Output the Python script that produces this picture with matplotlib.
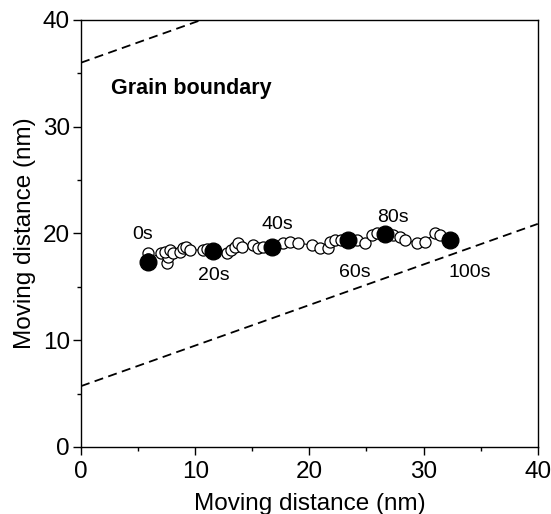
import matplotlib
matplotlib.use("Agg")
import matplotlib.pyplot as plt
from matplotlib.ticker import MultipleLocator

plt.rcParams['font.family'] = ['Liberation Sans', 'DejaVu Sans']

# trajectory (hollow markers), in time order
traj_x = [5.86, 5.9, 7.0, 7.5, 7.6, 7.35, 7.8, 8.05, 8.67, 8.93, 9.2, 9.54, 10.68, 11.03, 11.55,
          12.78, 13.13, 13.48, 13.74, 14.1, 15.05, 15.5, 15.93, 16.72, 17.68, 18.3, 19.0,
          20.2, 20.9, 21.6, 21.8, 22.2, 22.8, 23.37, 24.2, 24.86, 25.5, 25.9, 26.6, 27.3,
          27.9, 28.36, 29.4, 30.1, 31.0, 31.4, 32.3]
traj_y = [18.17, 17.6, 18.17, 17.2, 17.8, 18.27, 18.45, 18.17, 18.27, 18.64, 18.74, 18.45, 18.45,
          18.55, 18.36, 18.17, 18.45, 18.74, 19.1, 18.74, 18.92, 18.64, 18.74, 18.74, 19.1,
          19.2, 19.1, 18.92, 18.64, 18.64, 19.2, 19.39, 19.39, 19.39, 19.39, 19.1, 19.86,
          20.05, 19.95, 19.86, 19.67, 19.39, 19.1, 19.2, 20.05, 19.86, 19.39]

# snapshots every 20 s (filled markers)
snap_x = [5.86, 11.55, 16.72, 23.37, 26.6, 32.3]
snap_y = [17.33, 18.36, 18.74, 19.39, 19.95, 19.39]
snap_labels = ['0s', '20s', '40s', '60s', '80s', '100s']
label_x = [5.4, 11.6, 17.2, 24.0, 27.3, 34.0]
label_y = [19.9, 16.1, 20.8, 16.3, 21.5, 16.3]

# grain boundary dashed lines
gb_x = [0, 40]
gb_lower_y = [5.7, 20.9]
gb_upper_y = [36.0, 51.2]

fig = plt.figure(figsize=(5.51, 5.14), dpi=100)
ax = fig.add_axes([0.147, 0.1304, 0.829, 0.8307])

ax.plot(gb_x, gb_lower_y, color='black', lw=1.3, linestyle=(0, (5, 3)))
ax.plot(gb_x, gb_upper_y, color='black', lw=1.3, linestyle=(0, (5, 3)))

ax.plot(traj_x, traj_y, color='black', lw=0.8, marker='o', markersize=8,
        markerfacecolor='white', markeredgecolor='black', markeredgewidth=0.9, zorder=3)
ax.plot(snap_x, snap_y, linestyle='none', marker='o', markersize=12,
        markerfacecolor='black', markeredgecolor='black', zorder=4)

for lx, ly, t in zip(label_x, label_y, snap_labels):
    ax.text(lx, ly, t, fontsize=14, ha='center', va='center')

ax.text(2.6, 33.6, 'Grain boundary', fontsize=15.5, fontweight='bold', ha='left', va='center')

ax.set_xlim(0, 40)
ax.set_ylim(0, 40)
ax.xaxis.set_major_locator(MultipleLocator(10))
ax.xaxis.set_minor_locator(MultipleLocator(5))
ax.yaxis.set_major_locator(MultipleLocator(10))
ax.yaxis.set_minor_locator(MultipleLocator(5))
ax.tick_params(which='major', direction='out', length=6, width=1, labelsize=17.5, pad=2)
ax.tick_params(axis='x', which='major', pad=4)
ax.tick_params(which='minor', direction='out', length=3, width=1)
for s in ax.spines.values():
    s.set_linewidth(1.0)

ax.set_xlabel('Moving distance (nm)', fontsize=17.5, labelpad=7)
ax.set_ylabel('Moving distance (nm)', fontsize=17.5, labelpad=5)

fig.savefig('out.png', dpi=100)
